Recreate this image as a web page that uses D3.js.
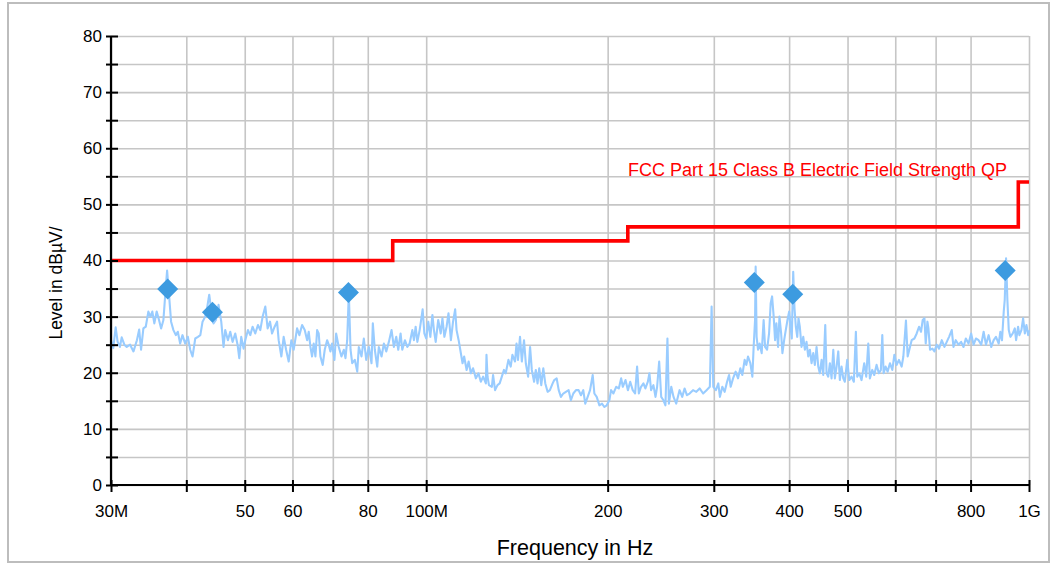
<!DOCTYPE html>
<html><head><meta charset="utf-8">
<script src="https://cdn.jsdelivr.net/npm/d3@7"></script>
<style>
body{margin:0;background:#fff;}
svg{display:block;font-family:"Liberation Sans",Arial,sans-serif;}
</style>
</head><body>
<svg id="c" width="1053" height="564"></svg>
<script>
// ---------------- data ----------------
const xTicks = [30,40,50,60,70,80,100,200,300,400,500,600,700,800,1000];
const xTickLabels = ["30M","","50","60","","80","100M","200","300","400","500","","","800","1G"];
const yTicks = [0,5,10,15,20,25,30,35,40,45,50,55,60,65,70,75,80];
const yTickLabels = ["0","","10","","20","","30","","40","","50","","60","","70","","80"];
const limitFreq = [30,88,216,960,1000];
const limitLevel = [40,43.5,46,54,54];
const limitLabel = "FCC Part 15 Class B Electric Field Strength QP";
const markerFreq = [37.25,44.2,74.3,350.2,405.6,913];
const markerLevel = [34.9,30.8,34.3,36.1,34.0,38.2];
const xTitle = "Frequency in Hz";
const yTitle = "Level in dBµV/";
// measured trace: [MHz, dBµV]
const trace = [
[30.0,25.8],[30.26,24.4],[30.54,28.1],[30.77,25.5],[31.04,24.6],[31.25,26.3],[31.57,25.0],[31.86,24.6],[32.27,25.0],[32.69,23.8],
[33.12,25.8],[33.41,27.7],[33.65,24.1],[33.95,27.9],[34.26,28.2],[34.6,30.9],[34.87,30.0],[35.13,30.9],[35.4,28.8],[35.72,30.9],
[36.04,29.4],[36.33,27.9],[36.65,29.4],[36.89,33.6],[37.17,38.2],[37.46,33.6],[37.74,29.1],[38.08,27.6],[38.43,26.7],[38.72,27.3],
[39.07,25.2],[39.42,26.7],[39.83,25.2],[40.24,26.4],[40.6,24.1],[40.96,22.9],[41.39,26.1],[41.82,26.4],[42.2,26.7],[42.56,29.1],
[43.0,30.0],[43.3,31.5],[43.66,33.9],[43.99,31.2],[44.38,28.8],[44.79,29.4],[45.24,32.1],[45.71,29.1],[46.11,24.6],[46.41,27.6],
[46.89,25.8],[47.31,27.3],[47.73,25.5],[48.22,27.0],[48.65,25.0],[48.97,22.6],[49.34,26.4],[49.78,24.3],[50.1,25.8],[50.62,27.6],
[51.07,26.7],[51.52,28.2],[52.05,27.0],[52.59,28.5],[53.06,27.6],[53.54,30.0],[54.09,31.8],[54.57,27.9],[55.07,29.1],[55.5,27.0],
[56.05,28.2],[56.57,29.1],[56.92,25.8],[57.51,22.9],[58.02,26.4],[58.56,24.1],[59.14,22.0],[59.75,25.8],[60.28,24.1],
[61.07,27.9],[61.61,26.7],[62.25,28.5],[62.88,27.6],[63.46,25.8],[63.85,27.3],[64.26,24.6],[64.67,22.9],[65.07,25.2],[65.5,22.9],
[65.93,27.6],[66.33,27.0],[66.76,22.9],[67.35,21.4],[67.87,24.1],[68.49,25.8],[68.91,25.0],[69.36,23.8],[69.81,25.2],[70.43,22.3],
[70.89,27.0],[71.6,24.6],[72.35,22.9],[73.0,24.1],[73.47,22.6],[73.95,25.8],[74.41,34.2],[74.9,24.1],[75.38,21.7],[76.14,22.3],
[76.84,20.2],[77.31,24.6],[78.11,22.9],[78.8,26.1],[79.53,22.3],[80.33,24.6],[81.15,21.7],[81.56,28.8],[82.18,24.1],[82.94,21.1],
[83.45,24.6],[84.32,22.9],[85.07,25.2],[85.85,23.8],[86.71,25.5],[87.61,27.6],[88.38,24.6],[89.2,26.4],[89.88,24.1],[90.68,27.0],
[91.27,24.1],[92.19,25.8],[93.04,24.6],[93.86,25.2],[94.84,27.6],[95.43,25.8],[96.05,28.2],[96.68,25.5],[97.53,27.6],[98.27,30.0],
[98.65,31.3],[99.3,27.0],[100.0,26.1],[100.8,29.1],[101.6,26.4],[102.4,30.3],[103.0,27.6],[103.7,25.5],[104.7,29.4],[105.7,27.0],
[106.4,29.7],[107.2,26.4],[108.1,28.2],[108.9,30.6],[109.9,25.8],[110.8,29.1],[111.7,31.3],[112.3,27.6],[113.2,25.8],[113.9,24.1],
[114.9,21.7],[115.6,22.9],[116.7,20.5],[117.6,22.0],[118.6,19.9],[119.6,20.8],[120.9,19.0],[122.1,19.9],[123.2,18.4],[124.3,19.3],
[125.6,18.1],
[125.9,23.2],[126.4,19.3],[127.1,17.8],[128.5,17.5],[129.1,19.6],[130.1,16.9],[131.3,17.8],[132.4,18.1],[133.5,19.3],[134.6,20.5],
[135.5,19.9],[136.9,22.3],[138.1,21.1],[139.0,23.2],[140.4,22.0],[141.2,25.2],[142.0,22.3],[143.1,26.4],[144.1,22.0],[145.3,25.8],
[146.3,21.7],[147.6,19.3],[148.7,24.6],[149.7,20.5],[151.0,18.4],[152.0,20.5],[153.0,18.1],[154.0,20.8],[155.2,17.8],[156.4,20.8],
[157.6,18.1],[159.0,16.6],[160.4,16.9],[162.1,18.1],[163.1,18.7],[164.6,19.0],[165.9,16.9],[167.3,15.7],[168.8,16.3],[170.5,16.6],
[172.3,16.9],[173.8,15.1],[175.4,16.3],[177.2,16.9],[179.0,16.9],[180.6,16.0],[182.2,16.9],[183.6,14.5],[185.3,15.7],[187.0,16.9],
[188.9,19.6],[190.1,16.3],[191.8,15.7],[193.8,14.2],[195.7,14.5],[197.5,13.9],[199.3,14.2],[201.3,15.1],[202.6,16.9],[204.4,16.3],
[206.6,17.5],[208.7,17.2],[210.6,19.0],[211.9,17.5],[214.1,18.7],[216.1,16.9],[218.0,18.4],[220.1,16.9],[222.1,16.3],[223.8,21.1],
[225.3,16.3],[227.2,17.5],[229.3,18.1],[231.0,17.2],[233.2,18.4],[234.6,19.9],[236.1,16.9],[238.2,17.8],[240.1,15.7],[241.6,17.5],
[243.5,22.0],[245.4,15.7],[247.5,15.1],[249.4,14.2],[251.3,26.1],[252.7,14.5],[255.0,17.5],[257.2,15.7],[259.9,14.5],
[263.2,16.9],[265.9,15.7],[268.3,17.2],[270.7,16.0],[273.5,16.3],[277.1,16.9],[280.6,16.6],[284.2,17.2],[288.0,16.3],[291.8,16.9],
[295.5,17.5],[297.5,31.8],[299.4,17.5],[302.4,16.9],[305.2,18.1],[307.1,15.7],[309.9,17.5],[312.7,16.6],[315.6,18.4],[318.0,19.6],
[320.0,17.5],[322.9,19.0],[326.1,20.2],[329.1,19.0],[332.0,20.8],[334.5,19.6],[337.5,22.3],[339.7,21.4],[341.9,22.9],[344.9,21.7],
[347.6,19.3],[349.3,24.6],[351.2,29.4],[352.0,38.9],[353.3,26.4],[355.2,24.1],[357.4,25.2],[360.2,23.5],[362.9,29.4],[364.9,24.6],
[367.7,24.1],[370.5,27.0],[372.8,32.4],[374.8,33.6],[377.1,30.0],[379.1,25.8],[381.0,28.8],[383.5,24.6],[385.5,30.0],[388.0,27.0],
[389.9,23.5],[392.5,25.8],[394.9,27.6],[397.5,29.4],[400.1,30.9],[402.1,28.2],[404.1,26.1],[406.3,38.0],[408.3,31.5],[410.4,28.2],
[412.6,26.4],[414.6,29.7],[416.7,28.2],[419.4,24.6],[422.2,26.4],[424.8,24.1],[427.5,25.5],[430.3,22.9],[433.0,24.1],[435.8,21.7],
[438.6,23.5],[441.3,21.4],[444.2,24.6],[447.1,21.1],[449.8,19.9],[452.8,22.3],[455.7,19.6],[459.2,28.5],[461.5,19.9],[464.5,19.3],
[467.4,21.7],[470.4,19.0],[473.5,24.1],[476.4,19.0],[479.5,21.1],[482.6,23.8],[485.5,18.7],[488.7,21.1],[491.9,19.0],[494.9,18.4],
[499.4,22.3],[503.3,18.7],[507.7,19.3],[512.2,18.4],[516.2,27.3],[518.9,19.3],[522.9,19.9],
[527.5,18.7],[532.9,21.7],[537.0,19.3],[541.2,25.2],[544.5,19.0],[549.5,20.5],[553.7,19.6],[558.6,21.4],[563.6,19.9],[567.9,20.5],
[571.0,26.7],[573.9,19.9],[578.3,21.1],[582.7,20.2],[587.9,21.7],[593.3,20.5],[597.9,23.2],[603.2,21.4],[608.5,22.3],[614.8,21.1],
[618.8,22.9],[625.0,29.3],[629.1,22.9],[634.7,24.6],[638.8,25.8],[645.5,26.1],[651.2,27.0],[657.0,28.2],[662.0,27.3],[666.3,29.4],
[670.7,29.7],[674.0,25.2],[678.4,29.1],[681.0,27.9],[685.2,24.1],[691.5,24.3],[696.8,23.8],[703.0,25.0],[709.2,24.3],[716.6,25.8],
[724.0,24.6],[730.4,25.5],[736.9,26.4],[744.5,27.6],[749.4,24.6],[756.0,25.8],[763.9,25.0],[771.6,25.5],[778.7,24.6],[785.6,26.1],
[793.8,25.2],[801.7,27.0],[809.2,25.0],[816.4,26.1],[824.9,25.8],[833.2,25.0],[840.9,27.3],[848.4,25.0],[857.2,26.7],[865.8,24.6],
[873.8,25.8],[881.5,26.4],[890.7,25.2],[896.2,27.3],[902.0,25.8],[908.0,30.9],[911.5,33.0],[916.1,40.4],[920.7,33.0],[925.6,27.6],
[931.3,26.4],[939.9,27.0],[947.2,27.9],[951.9,25.8],[959.2,28.2],[964.0,26.7],[971.4,27.6],[977.8,29.7],[984.2,27.0],[990.3,28.5],
[996.8,26.7],[1000,27.6]
];

// ---------------- chart ----------------
const svg = d3.select("#c");
const L = 111, R = 1029, T = 36, B = 485;
const x = d3.scaleLog().domain([30,1000]).range([L,R]);
const y = d3.scaleLinear().domain([0,80]).range([B,T]);

// outer frame
svg.append("rect").attr("x",8).attr("y",3).attr("width",1041).attr("height",559)
  .attr("fill","#fff").attr("stroke","#bdbdbd").attr("stroke-width",2);

// grid
const gridX = svg.append("g").attr("transform",`translate(0,${B})`)
  .call(d3.axisBottom(x).tickValues(xTicks).tickSize(-(B-T)).tickFormat(""));
const gridY = svg.append("g").attr("transform",`translate(${L},0)`)
  .call(d3.axisLeft(y).tickValues(yTicks).tickSize(-(R-L)).tickFormat(""));
[gridX,gridY].forEach(g=>{
  g.select(".domain").remove();
  g.selectAll(".tick line").attr("stroke","#c6c6c6").attr("stroke-width",1.6);
});

// limit line
const limitLine = d3.line().x((d,i)=>x(limitFreq[i])).y((d,i)=>y(limitLevel[i])).curve(d3.curveStepAfter);
svg.append("path").datum(limitFreq).attr("d",limitLine)
  .attr("fill","none").attr("stroke","#ff0000").attr("stroke-width",3.6);

// trace
const traceLine = d3.line().x(d=>x(d[0])).y(d=>y(d[1]));
svg.append("path").datum(trace).attr("d",traceLine)
  .attr("fill","none").attr("stroke","#99ccff").attr("stroke-width",2.1).attr("stroke-linejoin","round");

// markers
const r = 10.5;
svg.append("g").selectAll("path").data(markerFreq).join("path")
  .attr("transform",(d,i)=>`translate(${x(d)},${y(markerLevel[i])})`)
  .attr("d",`M0,${-r}L${r},0L0,${r}L${-r},0Z`)
  .attr("fill","#3d9be0");

// limit label
svg.append("text").attr("x",628).attr("y",176).attr("fill","#ff0000")
  .attr("font-size",18).text(limitLabel);

// axes
const ax = svg.append("g").attr("transform",`translate(0,${B})`)
  .call(d3.axisBottom(x).tickValues(xTicks).tickSize(7).tickFormat((d,i)=>xTickLabels[i]));
ax.selectAll(".tick line").attr("y1",-5).attr("y2",7).attr("stroke","#000").attr("stroke-width",2);
ax.select(".domain").attr("stroke","#000").attr("stroke-width",2.2).attr("d",`M${L},0H${R}`);
ax.selectAll(".tick text").attr("y",20).attr("font-size",17).attr("fill","#000").attr("font-family","Liberation Sans, Arial, sans-serif");

const ay = svg.append("g").attr("transform",`translate(${L},0)`)
  .call(d3.axisLeft(y).tickValues(yTicks).tickSize(5).tickFormat((d,i)=>yTickLabels[i]));
ay.selectAll(".tick line").attr("x1",7).attr("x2",-5).attr("stroke","#000").attr("stroke-width",2);
ay.select(".domain").attr("stroke","#000").attr("stroke-width",2.2).attr("d",`M0,${T}V${B}`);
ay.selectAll(".tick text").attr("x",-9).attr("font-size",17).attr("fill","#000").attr("font-family","Liberation Sans, Arial, sans-serif");

// titles
svg.append("text").attr("x",575).attr("y",555).attr("text-anchor","middle")
  .attr("font-size",21.5).attr("fill","#000").text(xTitle);
svg.append("text").attr("transform","translate(62,283) rotate(-90)").attr("text-anchor","middle")
  .attr("font-size",17.5).attr("fill","#000").text(yTitle);
</script>
</body></html>
